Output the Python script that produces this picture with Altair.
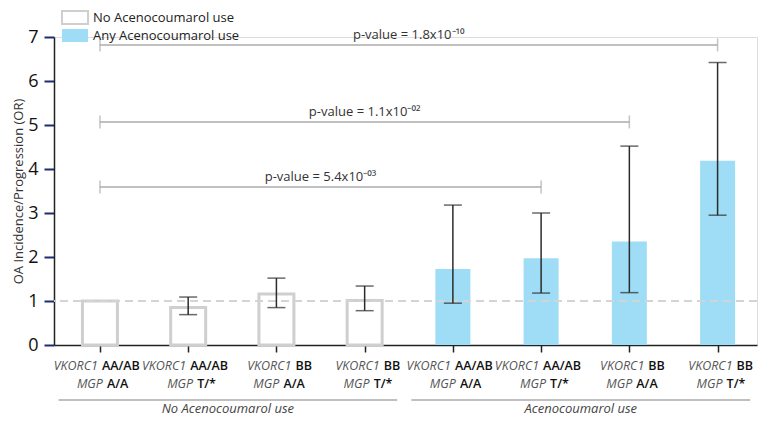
import altair as alt
import pandas as pd

FONT = "Open Sans"

# ---- data ----
vkorc1 = ["AA/AB", "AA/AB", "BB", "BB", "AA/AB", "AA/AB", "BB", "BB"]
mgp = ["A/A", "T/*", "A/A", "T/*", "A/A", "T/*", "A/A", "T/*"]
use_group = ["No Acenocoumarol use"] * 4 + ["Any Acenocoumarol use"] * 4
odds_ratio = [1.00, 0.85, 1.16, 1.01, 1.73, 1.97, 2.35, 4.19]
ci_low = [None, 0.69, 0.85, 0.78, 0.95, 1.18, 1.19, 2.95]
ci_high = [None, 1.09, 1.52, 1.34, 3.18, 3.00, 4.52, 6.42]

pv_from = [0, 0, 0]
pv_to = [7, 6, 5]
pv_height = [6.82, 5.07, 3.59]
pv_text = ["p-value = 1.8x10\u207b\u00b9\u2070",
           "p-value = 1.1x10\u207b\u2070\u00b2",
           "p-value = 5.4x10\u207b\u2070\u00b3"]

group_names = ["No Acenocoumarol use", "Acenocoumarol use"]
group_first = [0, 4]
group_last = [3, 7]

legend_domain = ["No Acenocoumarol use", "Any Acenocoumarol use"]

# ---- tables ----
bars = pd.DataFrame({
    "idx": list(range(len(odds_ratio))),
    "group": use_group,
    "or": odds_ratio,
    "lo": ci_low,
    "hi": ci_high,
})

labels = pd.DataFrame(
    [{"idx": i, "row": 1, "ital": "VKORC1", "bold": v} for i, v in enumerate(vkorc1)]
    + [{"idx": i, "row": 2, "ital": "MGP", "bold": m} for i, m in enumerate(mgp)]
)

pv = pd.DataFrame({"x0": pv_from, "x1": pv_to, "h": pv_height, "txt": pv_text})

grp = pd.DataFrame({
    "name": group_names,
    "s": [f - 0.47 for f in group_first],
    "e": [l + 0.37 for l in group_last],
})

# ---- scales / axes ----
XS = alt.Scale(domain=[-0.464, 7.39], nice=False, zero=False)
YS = alt.Scale(domain=[0, 7], nice=False, zero=True)

x_axis = alt.Axis(values=list(range(8)), labels=False, ticks=True, tickSize=7,
                  tickWidth=1.5, tickColor="#222222", domainColor="#222222",
                  domainWidth=1.5, grid=False, title=None)
y_axis = alt.Axis(values=list(range(8)), tickSize=10, tickWidth=2,
                  tickColor="#1f2b6e", labelFontSize=18, labelColor="#111111",
                  labelPadding=6, labelFont=FONT, domainColor="#222222",
                  domainWidth=1.5, grid=False,
                  title="OA Incidence/Progression (OR)", titleFontSize=13,
                  titleFontWeight="normal", titleColor="#333333", titleFont=FONT,
                  titlePadding=2)


def X(field):
    return alt.X(field, scale=XS, axis=x_axis)


def Y(field):
    return alt.Y(field, scale=YS, axis=y_axis)


def Ydatum(v):
    return alt.Y(datum=v, type="quantitative", scale=YS, axis=y_axis)


legend = alt.Legend(title=None, orient="none", legendX=13.5, legendY=-27,
                    symbolType="M-2,-1H2V1H-2Z", symbolSize=169,
                    symbolStrokeWidth=2, labelFontSize=13, labelFont=FONT,
                    labelColor="#222222", labelOffset=10.5, rowPadding=-4,
                    padding=0)

fill_scale = alt.Scale(domain=legend_domain, range=["#ffffff", "#9fdcf5"])
stroke_scale = alt.Scale(domain=legend_domain, range=["#cfcfcf", "transparent"])

base = alt.Chart(bars)

bar_layer = base.mark_bar(size=35, strokeWidth=3).encode(
    x=X("idx:Q"),
    y=Y("or:Q"),
    fill=alt.Fill("group:N", scale=fill_scale, legend=legend),
    stroke=alt.Stroke("group:N", scale=stroke_scale, legend=legend),
)

ref_line = base.mark_rule(strokeDash=[8, 5], color="#d3d3d3",
                          strokeWidth=1.5).encode(y=Ydatum(1))

err_rule = base.transform_filter("isValid(datum.lo)").mark_rule(
    color="#2b2b2b", strokeWidth=1.5).encode(
    x=X("idx:Q"), y=Y("lo:Q"), y2="hi:Q",
)
err_caps = base.transform_filter("isValid(datum.lo)").transform_fold(
    ["lo", "hi"], as_=["end", "val"]).mark_tick(
    orient="horizontal", size=18, thickness=1.5, color="#2b2b2b").encode(
    x=X("idx:Q"), y=Y("val:Q"),
)

# p-value brackets
pv_base = alt.Chart(pv)
pv_lines = pv_base.mark_rule(color="#ababab", strokeWidth=1.5).encode(
    x=X("x0:Q"), x2="x1:Q", y=Y("h:Q"),
)
pv_ends = pv_base.transform_fold(["x0", "x1"], as_=["end", "xp"]).mark_tick(
    orient="vertical", size=13, thickness=1.5, color="#ababab").encode(
    x=X("xp:Q"), y=Y("h:Q"),
)
pv_text_layer = pv_base.transform_calculate(mid="(datum.x0 + datum.x1) / 2").mark_text(
    font=FONT, fontSize=13, color="#333333", baseline="alphabetic", dy=-6).encode(
    x=X("mid:Q"), y=Y("h:Q"), text="txt:N",
)

# category labels (italic gene name + bold genotype)
split = {"AA/AB": -2, "BB": 15, "A/A": 3, "T/*": 5}
gap = 4
row_dy = {1: 25, 2: 43}
label_layers = []
for row in (1, 2):
    for b, off in split.items():
        sub = alt.Chart(labels).transform_filter(
            f"datum.row == {row} && datum.bold == '{b}'")
        label_layers.append(sub.mark_text(
            font=FONT, fontSize=12.5, fontStyle="italic", color="#555555",
            align="right", baseline="alphabetic", dx=off, dy=row_dy[row]).encode(
            x=X("idx:Q"), y=Ydatum(0), text="ital:N",
        ))
        label_layers.append(sub.mark_text(
            font=FONT, fontSize=12.5, fontWeight=600, color="#111111",
            align="left", baseline="alphabetic", dx=off + gap, dy=row_dy[row]).encode(
            x=X("idx:Q"), y=Ydatum(0), text="bold:N",
        ))

# group lines and names
grp_base = alt.Chart(grp)
grp_lines = grp_base.mark_rule(color="#ababab", strokeWidth=1.5, yOffset=55).encode(
    x=X("s:Q"), x2="e:Q", y=Ydatum(0),
)
grp_text = grp_base.transform_calculate(mid="(datum.s + datum.e) / 2").mark_text(
    font=FONT, fontSize=13, fontStyle="italic", color="#444444",
    baseline="alphabetic", dy=68).encode(
    x=X("mid:Q"), y=Ydatum(0), text="name:N",
)

chart = alt.layer(
    bar_layer, ref_line, err_rule, err_caps, pv_lines, pv_ends, pv_text_layer,
    grp_lines, grp_text, *label_layers
).properties(
    width=703, height=308,
    autosize=alt.AutoSizeParams(type="none"),
    padding={"left": 46, "top": 29, "right": 12, "bottom": 73},
).configure_view(strokeWidth=0).configure(font=FONT)

chart.save("out.html", embed_options={"renderer": "svg", "actions": False})
